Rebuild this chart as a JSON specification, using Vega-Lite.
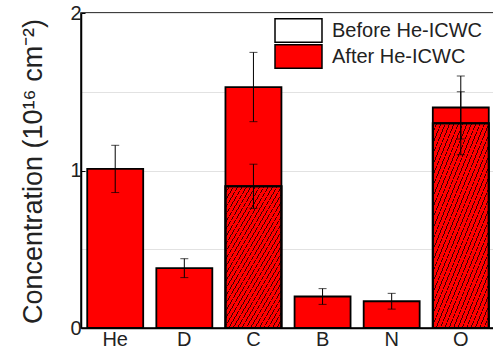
{
  "$schema": "https://vega.github.io/schema/vega-lite/v6.json",
  "autosize": {"type": "none"},
  "padding": {"left": 81, "top": 13, "right": 0, "bottom": 31},
  "width": 414,
  "height": 315,
  "background": "white",
  "config": {
    "font": "Liberation Sans",
    "view": {"stroke": "black", "strokeWidth": 1.5},
    "axis": {"labelColor": "#222", "titleColor": "#222", "domainColor": "black", "domainWidth": 1.5},
    "legend": {"title": null, "orient": "none", "padding": 0, "symbolType": "M-2,-1H2V1H-2Z", "symbolSize": 552,
      "symbolStrokeColor": "black", "symbolStrokeWidth": 1.5, "symbolOpacity": 1,
      "labelFontSize": 20, "labelColor": "#222", "labelOffset": 21, "labelFont": "Liberation Sans"}
  },
  "data": {
    "values": [
      {"element": "He", "series": "After He-ICWC", "value": 1.01, "lo": 0.86, "hi": 1.16},
      {"element": "D", "series": "After He-ICWC", "value": 0.38, "lo": 0.32, "hi": 0.44},
      {"element": "C", "series": "After He-ICWC", "value": 1.53, "lo": 1.31, "hi": 1.75},
      {"element": "B", "series": "After He-ICWC", "value": 0.20, "lo": 0.15, "hi": 0.25},
      {"element": "N", "series": "After He-ICWC", "value": 0.17, "lo": 0.12, "hi": 0.22},
      {"element": "O", "series": "After He-ICWC", "value": 1.40, "lo": 1.20, "hi": 1.60},
      {"element": "C", "series": "Before He-ICWC", "value": 0.90, "lo": 0.76, "hi": 1.04},
      {"element": "O", "series": "Before He-ICWC", "value": 1.30, "lo": 1.10, "hi": 1.50}
    ]
  },
  "encoding": {
    "x": {
      "field": "element", "type": "nominal",
      "scale": {"domain": ["He", "D", "C", "B", "N", "O"], "paddingInner": 0.19, "paddingOuter": 0.09},
      "axis": {"title": null, "labelAngle": 0, "labelFontSize": 20, "labelPadding": 5, "tickSize": -4, "tickColor": "black", "tickWidth": 1, "domainWidth": 1.5}
    }
  },
  "layer": [
    {
      "transform": [{"filter": "datum.series == 'After He-ICWC'"}],
      "mark": {"type": "bar", "stroke": "black", "strokeWidth": 1.8, "opacity": 1},
      "encoding": {
        "y": {
          "field": "value", "type": "quantitative",
          "title": "Concentration (10¹⁶ cm⁻²)",
          "scale": {"domain": [0, 2], "nice": false},
          "axis": {
            "titleFontSize": 27, "titleFontWeight": "normal",
            "titleX": -40, "titleY": 158, "titleAngle": -90, "titleAlign": "center", "titleBaseline": "alphabetic",
            "values": [0, 0.5, 1, 1.5, 2],
            "format": "~g",
            "labelExpr": "datum.value % 1 == 0 ? datum.label : ''",
            "labelFontSize": 20, "labelPadding": 4,
            "tickSize": -4,
            "tickColor": {"condition": {"test": "datum.value % 1 == 0", "value": "black"}, "value": "transparent"},
            "grid": true, "gridColor": "#e2e2e2", "gridWidth": 1
          }
        },
        "color": {
          "field": "series", "type": "nominal",
          "scale": {"domain": ["After He-ICWC"], "range": ["#ff0000"]},
          "legend": {"legendX": 205, "legendY": 31}
        }
      }
    },
    {
      "transform": [{"filter": "datum.series == 'Before He-ICWC'"}],
      "mark": {"type": "bar", "stroke": "black", "strokeWidth": 1.8, "opacity": 1,
        "fill": {"gradient": "linear", "x1": 1, "y1": 1, "x2": 0.228, "y2": -0.152, "stops": [
          {"offset":0,"color":"rgba(0,0,0,0.75)"},{"offset":0.0065,"color":"rgba(0,0,0,0.75)"},{"offset":0.0065,"color":"rgba(0,0,0,0)"},{"offset":0.03125,"color":"rgba(0,0,0,0)"},
          {"offset":0.03125,"color":"rgba(0,0,0,0.75)"},{"offset":0.03775,"color":"rgba(0,0,0,0.75)"},{"offset":0.03775,"color":"rgba(0,0,0,0)"},{"offset":0.0625,"color":"rgba(0,0,0,0)"},
          {"offset":0.0625,"color":"rgba(0,0,0,0.75)"},{"offset":0.069,"color":"rgba(0,0,0,0.75)"},{"offset":0.069,"color":"rgba(0,0,0,0)"},{"offset":0.09375,"color":"rgba(0,0,0,0)"},
          {"offset":0.09375,"color":"rgba(0,0,0,0.75)"},{"offset":0.10025,"color":"rgba(0,0,0,0.75)"},{"offset":0.10025,"color":"rgba(0,0,0,0)"},{"offset":0.125,"color":"rgba(0,0,0,0)"},
          {"offset":0.125,"color":"rgba(0,0,0,0.75)"},{"offset":0.1315,"color":"rgba(0,0,0,0.75)"},{"offset":0.1315,"color":"rgba(0,0,0,0)"},{"offset":0.15625,"color":"rgba(0,0,0,0)"},
          {"offset":0.15625,"color":"rgba(0,0,0,0.75)"},{"offset":0.16275,"color":"rgba(0,0,0,0.75)"},{"offset":0.16275,"color":"rgba(0,0,0,0)"},{"offset":0.1875,"color":"rgba(0,0,0,0)"},
          {"offset":0.1875,"color":"rgba(0,0,0,0.75)"},{"offset":0.194,"color":"rgba(0,0,0,0.75)"},{"offset":0.194,"color":"rgba(0,0,0,0)"},{"offset":0.21875,"color":"rgba(0,0,0,0)"},
          {"offset":0.21875,"color":"rgba(0,0,0,0.75)"},{"offset":0.22525,"color":"rgba(0,0,0,0.75)"},{"offset":0.22525,"color":"rgba(0,0,0,0)"},{"offset":0.25,"color":"rgba(0,0,0,0)"},
          {"offset":0.25,"color":"rgba(0,0,0,0.75)"},{"offset":0.2565,"color":"rgba(0,0,0,0.75)"},{"offset":0.2565,"color":"rgba(0,0,0,0)"},{"offset":0.28125,"color":"rgba(0,0,0,0)"},
          {"offset":0.28125,"color":"rgba(0,0,0,0.75)"},{"offset":0.28775,"color":"rgba(0,0,0,0.75)"},{"offset":0.28775,"color":"rgba(0,0,0,0)"},{"offset":0.3125,"color":"rgba(0,0,0,0)"},
          {"offset":0.3125,"color":"rgba(0,0,0,0.75)"},{"offset":0.319,"color":"rgba(0,0,0,0.75)"},{"offset":0.319,"color":"rgba(0,0,0,0)"},{"offset":0.34375,"color":"rgba(0,0,0,0)"},
          {"offset":0.34375,"color":"rgba(0,0,0,0.75)"},{"offset":0.35025,"color":"rgba(0,0,0,0.75)"},{"offset":0.35025,"color":"rgba(0,0,0,0)"},{"offset":0.375,"color":"rgba(0,0,0,0)"},
          {"offset":0.375,"color":"rgba(0,0,0,0.75)"},{"offset":0.3815,"color":"rgba(0,0,0,0.75)"},{"offset":0.3815,"color":"rgba(0,0,0,0)"},{"offset":0.40625,"color":"rgba(0,0,0,0)"},
          {"offset":0.40625,"color":"rgba(0,0,0,0.75)"},{"offset":0.41275,"color":"rgba(0,0,0,0.75)"},{"offset":0.41275,"color":"rgba(0,0,0,0)"},{"offset":0.4375,"color":"rgba(0,0,0,0)"},
          {"offset":0.4375,"color":"rgba(0,0,0,0.75)"},{"offset":0.444,"color":"rgba(0,0,0,0.75)"},{"offset":0.444,"color":"rgba(0,0,0,0)"},{"offset":0.46875,"color":"rgba(0,0,0,0)"},
          {"offset":0.46875,"color":"rgba(0,0,0,0.75)"},{"offset":0.47525,"color":"rgba(0,0,0,0.75)"},{"offset":0.47525,"color":"rgba(0,0,0,0)"},{"offset":0.5,"color":"rgba(0,0,0,0)"},
          {"offset":0.5,"color":"rgba(0,0,0,0.75)"},{"offset":0.5065,"color":"rgba(0,0,0,0.75)"},{"offset":0.5065,"color":"rgba(0,0,0,0)"},{"offset":0.53125,"color":"rgba(0,0,0,0)"},
          {"offset":0.53125,"color":"rgba(0,0,0,0.75)"},{"offset":0.53775,"color":"rgba(0,0,0,0.75)"},{"offset":0.53775,"color":"rgba(0,0,0,0)"},{"offset":0.5625,"color":"rgba(0,0,0,0)"},
          {"offset":0.5625,"color":"rgba(0,0,0,0.75)"},{"offset":0.569,"color":"rgba(0,0,0,0.75)"},{"offset":0.569,"color":"rgba(0,0,0,0)"},{"offset":0.59375,"color":"rgba(0,0,0,0)"},
          {"offset":0.59375,"color":"rgba(0,0,0,0.75)"},{"offset":0.60025,"color":"rgba(0,0,0,0.75)"},{"offset":0.60025,"color":"rgba(0,0,0,0)"},{"offset":0.625,"color":"rgba(0,0,0,0)"},
          {"offset":0.625,"color":"rgba(0,0,0,0.75)"},{"offset":0.6315,"color":"rgba(0,0,0,0.75)"},{"offset":0.6315,"color":"rgba(0,0,0,0)"},{"offset":0.65625,"color":"rgba(0,0,0,0)"},
          {"offset":0.65625,"color":"rgba(0,0,0,0.75)"},{"offset":0.66275,"color":"rgba(0,0,0,0.75)"},{"offset":0.66275,"color":"rgba(0,0,0,0)"},{"offset":0.6875,"color":"rgba(0,0,0,0)"},
          {"offset":0.6875,"color":"rgba(0,0,0,0.75)"},{"offset":0.694,"color":"rgba(0,0,0,0.75)"},{"offset":0.694,"color":"rgba(0,0,0,0)"},{"offset":0.71875,"color":"rgba(0,0,0,0)"},
          {"offset":0.71875,"color":"rgba(0,0,0,0.75)"},{"offset":0.72525,"color":"rgba(0,0,0,0.75)"},{"offset":0.72525,"color":"rgba(0,0,0,0)"},{"offset":0.75,"color":"rgba(0,0,0,0)"},
          {"offset":0.75,"color":"rgba(0,0,0,0.75)"},{"offset":0.7565,"color":"rgba(0,0,0,0.75)"},{"offset":0.7565,"color":"rgba(0,0,0,0)"},{"offset":0.78125,"color":"rgba(0,0,0,0)"},
          {"offset":0.78125,"color":"rgba(0,0,0,0.75)"},{"offset":0.78775,"color":"rgba(0,0,0,0.75)"},{"offset":0.78775,"color":"rgba(0,0,0,0)"},{"offset":0.8125,"color":"rgba(0,0,0,0)"},
          {"offset":0.8125,"color":"rgba(0,0,0,0.75)"},{"offset":0.819,"color":"rgba(0,0,0,0.75)"},{"offset":0.819,"color":"rgba(0,0,0,0)"},{"offset":0.84375,"color":"rgba(0,0,0,0)"},
          {"offset":0.84375,"color":"rgba(0,0,0,0.75)"},{"offset":0.85025,"color":"rgba(0,0,0,0.75)"},{"offset":0.85025,"color":"rgba(0,0,0,0)"},{"offset":0.875,"color":"rgba(0,0,0,0)"},
          {"offset":0.875,"color":"rgba(0,0,0,0.75)"},{"offset":0.8815,"color":"rgba(0,0,0,0.75)"},{"offset":0.8815,"color":"rgba(0,0,0,0)"},{"offset":0.90625,"color":"rgba(0,0,0,0)"},
          {"offset":0.90625,"color":"rgba(0,0,0,0.75)"},{"offset":0.91275,"color":"rgba(0,0,0,0.75)"},{"offset":0.91275,"color":"rgba(0,0,0,0)"},{"offset":0.9375,"color":"rgba(0,0,0,0)"},
          {"offset":0.9375,"color":"rgba(0,0,0,0.75)"},{"offset":0.944,"color":"rgba(0,0,0,0.75)"},{"offset":0.944,"color":"rgba(0,0,0,0)"},{"offset":0.96875,"color":"rgba(0,0,0,0)"},
          {"offset":0.96875,"color":"rgba(0,0,0,0.75)"},{"offset":0.97525,"color":"rgba(0,0,0,0.75)"},{"offset":0.97525,"color":"rgba(0,0,0,0)"},{"offset":1,"color":"rgba(0,0,0,0)"}
        ]}},
      "encoding": {
        "y": {"field": "value", "type": "quantitative", "title": "Concentration (10¹⁶ cm⁻²)"}
      }
    },
    {
      "transform": [{"filter": "datum.series == 'Before He-ICWC'"}],
      "mark": {"type": "bar", "stroke": "black", "strokeWidth": 1.8, "opacity": 1},
      "encoding": {
        "y": {"field": "value", "type": "quantitative", "title": "Concentration (10¹⁶ cm⁻²)"},
        "fill": {
          "field": "series", "type": "nominal",
          "scale": {"domain": ["Before He-ICWC"], "range": ["transparent"]},
          "legend": {
            "legendX": 205, "legendY": 5,
            "encode": {
              "symbols": {
                "update": {
                  "stroke": {"value": "black"},
                  "strokeWidth": {"value": 1.5},
                  "fill": {"value": "#ffffff"}
                }
              }
            }
          }
        }
      }
    },
    {
      "mark": {"type": "errorbar", "color": "black", "ticks": {"size": 8, "thickness": 1, "color": "black"}, "rule": {"strokeWidth": 1, "color": "black"}},
      "encoding": {
        "y": {"field": "lo", "type": "quantitative", "title": "Concentration (10¹⁶ cm⁻²)"},
        "y2": {"field": "hi"}
      }
    }
  ]
}
